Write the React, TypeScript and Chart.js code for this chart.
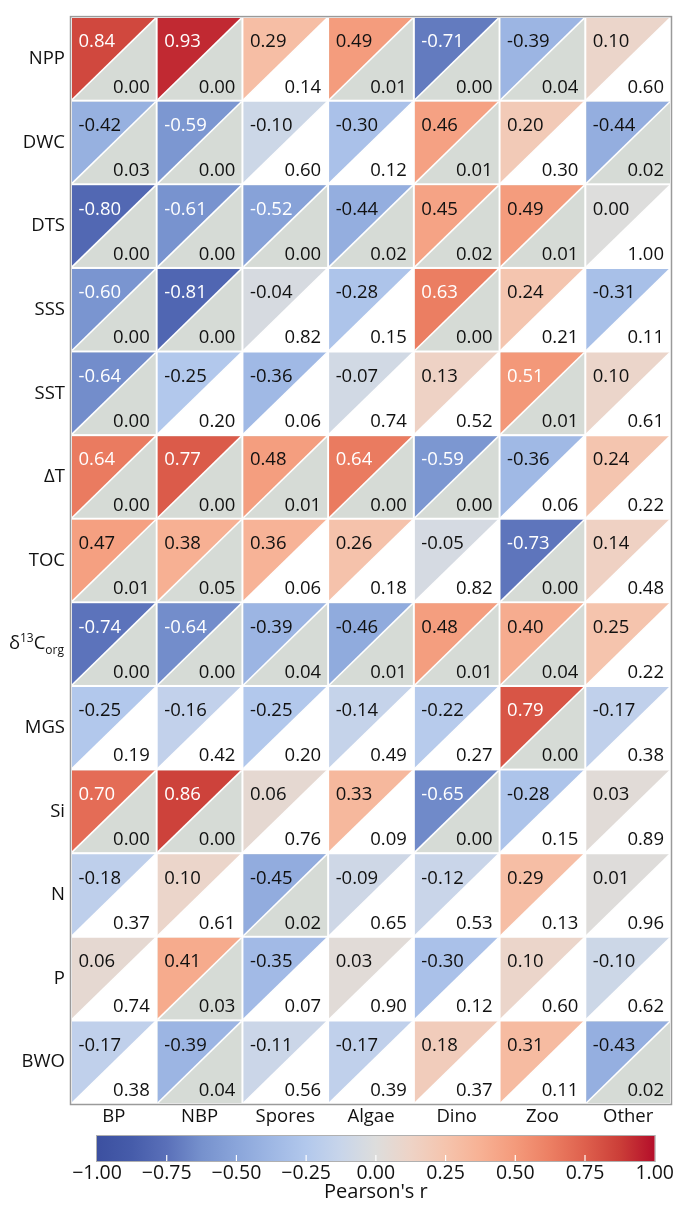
import React, { useEffect, useRef } from 'react';
import { Chart, registerables } from 'chart.js';
Chart.register(...registerables);

const rows = ['NPP', 'DWC', 'DTS', 'SSS', 'SST', 'ΔT', 'TOC', 'δ13Corg', 'MGS', 'Si', 'N', 'P', 'BWO'];
const cols = ['BP', 'NBP', 'Spores', 'Algae', 'Dino', 'Zoo', 'Other'];

const rNPP = [0.84, 0.93, 0.29, 0.49, -0.71, -0.39, 0.1];
const pNPP = [0.0, 0.0, 0.14, 0.01, 0.0, 0.04, 0.6];
const rDWC = [-0.42, -0.59, -0.1, -0.3, 0.46, 0.2, -0.44];
const pDWC = [0.03, 0.0, 0.6, 0.12, 0.01, 0.3, 0.02];
const rDTS = [-0.8, -0.61, -0.52, -0.44, 0.45, 0.49, 0.0];
const pDTS = [0.0, 0.0, 0.0, 0.02, 0.02, 0.01, 1.0];
const rSSS = [-0.6, -0.81, -0.04, -0.28, 0.63, 0.24, -0.31];
const pSSS = [0.0, 0.0, 0.82, 0.15, 0.0, 0.21, 0.11];
const rSST = [-0.64, -0.25, -0.36, -0.07, 0.13, 0.51, 0.1];
const pSST = [0.0, 0.2, 0.06, 0.74, 0.52, 0.01, 0.61];
const rDT = [0.64, 0.77, 0.48, 0.64, -0.59, -0.36, 0.24];
const pDT = [0.0, 0.0, 0.01, 0.0, 0.0, 0.06, 0.22];
const rTOC = [0.47, 0.38, 0.36, 0.26, -0.05, -0.73, 0.14];
const pTOC = [0.01, 0.05, 0.06, 0.18, 0.82, 0.0, 0.48];
const rD13C = [-0.74, -0.64, -0.39, -0.46, 0.48, 0.4, 0.25];
const pD13C = [0.0, 0.0, 0.04, 0.01, 0.01, 0.04, 0.22];
const rMGS = [-0.25, -0.16, -0.25, -0.14, -0.22, 0.79, -0.17];
const pMGS = [0.19, 0.42, 0.2, 0.49, 0.27, 0.0, 0.38];
const rSi = [0.7, 0.86, 0.06, 0.33, -0.65, -0.28, 0.03];
const pSi = [0.0, 0.0, 0.76, 0.09, 0.0, 0.15, 0.89];
const rN = [-0.18, 0.1, -0.45, -0.09, -0.12, 0.29, 0.01];
const pN = [0.37, 0.61, 0.02, 0.65, 0.53, 0.13, 0.96];
const rP = [0.06, 0.41, -0.35, 0.03, -0.3, 0.1, -0.1];
const pP = [0.74, 0.03, 0.07, 0.9, 0.12, 0.6, 0.62];
const rBWO = [-0.17, -0.39, -0.11, -0.17, 0.18, 0.31, -0.43];
const pBWO = [0.38, 0.04, 0.56, 0.39, 0.37, 0.11, 0.02];

const rMatrix = [rNPP, rDWC, rDTS, rSSS, rSST, rDT, rTOC, rD13C, rMGS, rSi, rN, rP, rBWO];
const pMatrix = [pNPP, pDWC, pDTS, pSSS, pSST, pDT, pTOC, pD13C, pMGS, pSi, pN, pP, pBWO];

const cbarTicks = [-1, -0.75, -0.5, -0.25, 0, 0.25, 0.5, 0.75, 1];

// diverging blue–red palette (coolwarm as printed), evenly spaced over -1..1
const PALETTE: number[][] = [
  [60, 80, 160], [70, 92, 170], [90, 112, 185], [118, 145, 205], [138, 165, 218],
  [158, 183, 228], [178, 200, 236], [200, 213, 234], [221, 221, 220],
  [238, 211, 198], [245, 196, 173], [247, 177, 148], [244, 154, 123],
  [236, 127, 99], [222, 96, 77], [203, 62, 56], [180, 14, 42],
];

function colorFor(v: number): string {
  const t = Math.max(0, Math.min(1, (v + 1) / 2)) * (PALETTE.length - 1);
  const i = Math.min(Math.floor(t), PALETTE.length - 2);
  const f = t - i;
  const a = PALETTE[i], b = PALETTE[i + 1];
  const c = a.map((x, k) => Math.round(x + (b[k] - x) * f));
  return `rgb(${c[0]},${c[1]},${c[2]})`;
}

const FONT = '"Open Sans", "Noto Sans", sans-serif';
const FS = 18.5;
const SIG_GRAY = '#d6dbd6';
const TEXT = '#111111';

const W = 675;
const MAIN_H = 1128;
const CBAR_H = 1210 - MAIN_H;

const matrixPlugin = {
  id: 'matrixCells',
  beforeDatasetsDraw(chart: any) {
    const { ctx, scales } = chart;
    const x = scales.x, y = scales.y;
    const cw = Math.abs(x.getPixelForValue(1) - x.getPixelForValue(0));
    const ch = Math.abs(y.getPixelForValue(1) - y.getPixelForValue(0));
    const data = chart.data.datasets[0].data as any[];
    ctx.save();
    for (const d of data) {
      const cx = x.getPixelForValue(d.x);
      const cy = y.getPixelForValue(d.y);
      const l = cx - cw / 2 + 1, r = cx + cw / 2 - 1;
      const t = cy - ch / 2 + 1, b = cy + ch / 2 - 1;
      ctx.fillStyle = d.p <= 0.05 ? SIG_GRAY : '#ffffff';
      ctx.fillRect(l, t, r - l, b - t);
      ctx.beginPath();
      ctx.moveTo(l, t);
      ctx.lineTo(r, t);
      ctx.lineTo(l, b);
      ctx.closePath();
      ctx.fillStyle = colorFor(d.r);
      ctx.fill();
      ctx.beginPath();
      ctx.moveTo(l, b);
      ctx.lineTo(r, t);
      ctx.strokeStyle = '#ffffff';
      ctx.lineWidth = 1.6;
      ctx.stroke();
      ctx.font = `${FS}px ${FONT}`;
      ctx.textBaseline = 'middle';
      ctx.textAlign = 'left';
      ctx.fillStyle = Math.abs(d.r) > 0.5 ? '#ffffff' : TEXT;
      ctx.fillText(d.r.toFixed(2), cx - cw / 2 + 7.5, cy - ch / 2 + ch * 0.3);
      ctx.textAlign = 'right';
      ctx.fillStyle = TEXT;
      ctx.fillText(d.p.toFixed(2), cx + cw / 2 - 7, cy - ch / 2 + ch * 0.84);
    }
    ctx.restore();
  },
  afterDraw(chart: any) {
    const { ctx, chartArea, scales } = chart;
    ctx.save();
    ctx.strokeStyle = '#9a9a9a';
    ctx.lineWidth = 1.5;
    ctx.strokeRect(chartArea.left - 0.5, chartArea.top - 0.5, chartArea.right - chartArea.left + 1, chartArea.bottom - chartArea.top + 1);
    // δ13Corg label with super/subscript
    const idx = rows.indexOf('δ13Corg');
    const yy = scales.y.getPixelForValue(idx);
    const small = 12;
    const parts: [string, number, number][] = [
      ['δ', FS, 0],
      ['13', small, -6],
      ['C', FS, 0],
      ['org', small, 6],
    ];
    let total = 0;
    for (const [s, f] of parts) {
      ctx.font = `${f}px ${FONT}`;
      total += ctx.measureText(s).width;
    }
    let xx = chartArea.left - 7 - total;
    ctx.fillStyle = TEXT;
    ctx.textBaseline = 'middle';
    ctx.textAlign = 'left';
    for (const [s, f, dy] of parts) {
      ctx.font = `${f}px ${FONT}`;
      ctx.fillText(s, xx, yy + dy);
      xx += ctx.measureText(s).width;
    }
    ctx.restore();
  },
};

const cbarPlugin = {
  id: 'cbar',
  beforeDatasetsDraw(chart: any) {
    const { ctx, chartArea, scales } = chart;
    const x = scales.x;
    const { left, right, top, bottom } = chartArea;
    ctx.save();
    const g = ctx.createLinearGradient(left, 0, right, 0);
    PALETTE.forEach((c, i) => g.addColorStop(i / (PALETTE.length - 1), `rgb(${c[0]},${c[1]},${c[2]})`));
    ctx.fillStyle = g;
    ctx.fillRect(left, top, right - left, bottom - top);
    ctx.strokeStyle = '#ffffff';
    ctx.lineWidth = 1.2;
    for (const v of cbarTicks) {
      if (v <= -1 || v >= 1) continue;
      const px = x.getPixelForValue(v);
      ctx.beginPath();
      ctx.moveTo(px, bottom);
      ctx.lineTo(px, bottom - 6);
      ctx.stroke();
    }
    ctx.strokeStyle = '#b0b0b0';
    ctx.lineWidth = 1;
    ctx.strokeRect(left - 0.5, top - 0.5, right - left + 1, bottom - top + 1);
    ctx.restore();
  },
};

export default function App() {
  const mainRef = useRef<HTMLCanvasElement | null>(null);
  const cbarRef = useRef<HTMLCanvasElement | null>(null);

  useEffect(() => {
    document.body.style.margin = '0';
    Chart.defaults.font.family = FONT;
    Chart.defaults.color = TEXT;

    const cells: any[] = [];
    rMatrix.forEach((row, i) =>
      row.forEach((r, j) => cells.push({ x: j, y: i, r, p: pMatrix[i][j] }))
    );

    const main = new Chart(mainRef.current as HTMLCanvasElement, {
      type: 'scatter',
      data: { datasets: [{ data: cells, pointRadius: 0, pointHoverRadius: 0 }] },
      options: {
        responsive: false,
        animation: false,
        events: [],
        layout: { padding: { left: 0, right: 4, top: 6, bottom: 0 } },
        plugins: { legend: { display: false }, tooltip: { enabled: false } },
        scales: {
          x: {
            type: 'linear',
            min: -0.5,
            max: cols.length - 0.5,
            grid: { display: false, drawTicks: false },
            border: { display: false },
            afterBuildTicks: (s: any) => { s.ticks = cols.map((_, k) => ({ value: k })); },
            afterFit: (s: any) => { s.height = MAIN_H - 1104; },
            ticks: {
              autoSkip: false,
              maxRotation: 0,
              padding: 2,
              font: { size: FS },
              callback: (v: any) => cols[v as number] ?? '',
            },
          },
          y: {
            type: 'linear',
            reverse: true,
            min: -0.5,
            max: rows.length - 0.5,
            grid: { display: false, drawTicks: false },
            border: { display: false },
            afterBuildTicks: (s: any) => { s.ticks = rows.map((_, k) => ({ value: k })); },
            afterFit: (s: any) => { s.width = 71; },
            ticks: {
              autoSkip: false,
              padding: 6,
              font: { size: FS },
              callback: (v: any) => {
                const lab = rows[v as number];
                return lab === 'δ13Corg' ? '' : lab ?? '';
              },
            },
          },
        },
      },
      plugins: [matrixPlugin],
    } as any);

    const cbar = new Chart(cbarRef.current as HTMLCanvasElement, {
      type: 'scatter',
      data: { datasets: [{ data: [], pointRadius: 0 }] },
      options: {
        responsive: false,
        animation: false,
        events: [],
        layout: { padding: { left: 97, right: 18, top: 8, bottom: 0 } },
        plugins: { legend: { display: false }, tooltip: { enabled: false } },
        scales: {
          x: {
            type: 'linear',
            min: -1,
            max: 1,
            grid: { display: false, drawTicks: false },
            border: { display: false },
            afterBuildTicks: (s: any) => { s.ticks = cbarTicks.map((v) => ({ value: v })); },
            afterFit: (s: any) => { s.height = CBAR_H - 33; },
            ticks: {
              autoSkip: false,
              maxRotation: 0,
              padding: 1,
              font: { size: 19.5 },
              callback: (v: any) => {
                const n = Number(v);
                return (n < 0 ? '\u2212' : '') + Math.abs(n).toFixed(2);
              },
            },
            title: {
              display: true,
              text: "Pearson's r",
              font: { size: 20 },
              padding: { top: 0, bottom: 6 },
            },
          },
          y: { display: false, min: 0, max: 1 },
        },
      },
      plugins: [cbarPlugin],
    } as any);

    return () => {
      main.destroy();
      cbar.destroy();
    };
  }, []);

  return (
    <div style={{ width: W, height: 1210, position: 'relative', background: '#fff' }}>
      <canvas ref={mainRef} width={W} height={MAIN_H} style={{ display: 'block' }} />
      <canvas ref={cbarRef} width={W} height={CBAR_H} style={{ display: 'block' }} />
    </div>
  );
}
